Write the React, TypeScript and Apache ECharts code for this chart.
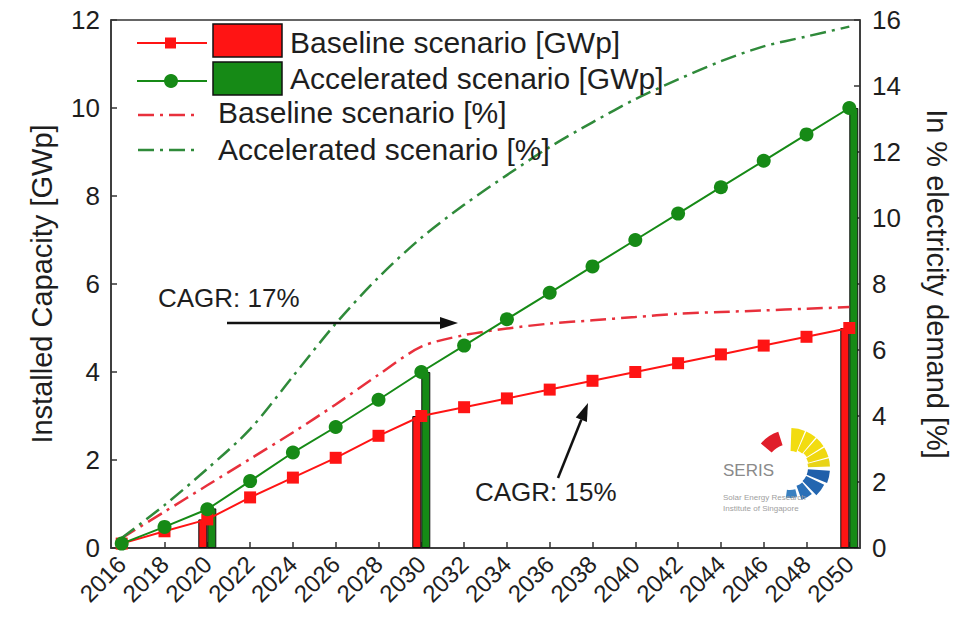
import React, { useEffect, useRef } from "react";
import * as echarts from "echarts";

// ---------- data ----------
const years: string[] = [];
for (let y = 2016; y <= 2050; y++) years.push(String(y));

const markerYears = [2016, 2018, 2020, 2022, 2024, 2026, 2028, 2030, 2032, 2034, 2036, 2038, 2040, 2042, 2044, 2046, 2048, 2050];
const baselineGWp = [0.1, 0.38, 0.65, 1.15, 1.6, 2.05, 2.55, 3.0, 3.2, 3.4, 3.6, 3.8, 4.0, 4.2, 4.4, 4.6, 4.8, 5.0];
const acceleratedGWp = [0.1, 0.48, 0.88, 1.52, 2.17, 2.75, 3.37, 4.0, 4.6, 5.2, 5.8, 6.4, 7.0, 7.6, 8.2, 8.8, 9.4, 10.0];
const baselinePct = [0.3, 1.1, 1.9, 2.7, 3.5, 4.35, 5.25, 6.1, 6.45, 6.65, 6.8, 6.9, 7.0, 7.1, 7.15, 7.2, 7.25, 7.3];
const acceleratedPct = [0.3, 1.3, 2.4, 3.6, 5.2, 6.8, 8.2, 9.4, 10.4, 11.3, 12.15, 12.9, 13.6, 14.2, 14.75, 15.2, 15.5, 15.8];

const barYears = [2020, 2030, 2050];
const baselineBars = [0.65, 3.0, 5.0];
const acceleratedBars = [0.9, 4.0, 10.0];

const leftTicks = { min: 0, max: 12, interval: 2 };
const rightTicks = { min: 0, max: 16, interval: 2 };

const RED = "#ff1414";
const GREEN = "#168a16";
const RED_D = "#e8303c";
const GREEN_D = "#2f8a3a";
const FONT = "Liberation Sans, Arial, Helvetica, sans-serif";
const TXT = "#1e1e1e";

function toFull(ys: number[], vs: number[]) {
  return years.map((y) => {
    const i = ys.indexOf(Number(y));
    return i >= 0 ? vs[i] : null;
  });
}

function arrowHead(tipX: number, tipY: number, fromX: number, fromY: number, len: number, half: number) {
  const dx = tipX - fromX;
  const dy = tipY - fromY;
  const d = Math.sqrt(dx * dx + dy * dy);
  const ux = dx / d;
  const uy = dy / d;
  const bx = tipX - ux * len;
  const by = tipY - uy * len;
  return {
    base: [bx, by],
    pts: [
      [tipX, tipY],
      [bx - uy * half, by + ux * half],
      [bx + uy * half, by - ux * half],
    ],
  };
}

function textEl(x: number, y: number, text: string, size: number, fill = TXT, extra: any = {}) {
  return {
    type: "text",
    x,
    y,
    z: 20,
    style: {
      text,
      fill,
      font: `${extra.weight || "normal"} ${size}px ${FONT}`,
      align: extra.align || "left",
      verticalAlign: "middle",
      textAlign: extra.align || "left",
      textVerticalAlign: "middle",
    },
  };
}

export default function App() {
  const ref = useRef<HTMLDivElement>(null);

  useEffect(() => {
    document.body.style.margin = "0";
    if (!ref.current) return;
    const chart = echarts.init(ref.current, null, { renderer: "svg" });

    const a1 = arrowHead(458, 323, 227, 323, 18, 6);
    const a2 = arrowHead(588, 403, 558, 478, 18, 6);

    // logo sectors (math angles in degrees)
    const cx = 790;
    const cy = 468;
    const deg = Math.PI / 180;
    const sector = (a1d: number, a2d: number, r0: number, r: number, color: string) => ({
      type: "sector",
      z: 5,
      shape: { cx, cy, r0, r, startAngle: -a2d * deg, endAngle: -a1d * deg, clockwise: true },
      style: { fill: color },
    });
    const logo = [
      sector(108, 140, 24, 38, "#e01e2a"),
      sector(68, 88, 17, 40, "#f2dc10"),
      sector(50, 66, 19, 40, "#f2dc10"),
      sector(33, 48, 20, 40, "#f2dc10"),
      sector(16, 31, 19, 40, "#f0d810"),
      sector(2, 14, 18, 40, "#e8d418"),
      sector(-22, -4, 18, 40, "#1f5faa"),
      sector(-46, -26, 18, 38, "#2366b0"),
      sector(-70, -50, 19, 34, "#2a70b8"),
      sector(-98, -76, 22, 30, "#3a80c0"),
      textEl(723, 470, "SERIS", 17, "#8a8a8a"),
      textEl(723, 497, "Solar Energy Research", 8, "#a0a0a0"),
      textEl(723, 508, "Institute of Singapore", 8, "#a0a0a0"),
    ];

    const legend = [
      { type: "line", z: 20, shape: { x1: 137, y1: 43, x2: 207, y2: 43 }, style: { stroke: RED, lineWidth: 2 } },
      { type: "rect", z: 21, shape: { x: 165, y: 37.5, width: 11, height: 11 }, style: { fill: RED } },
      { type: "rect", z: 20, shape: { x: 213, y: 24, width: 69, height: 33 }, style: { fill: RED, stroke: "#111", lineWidth: 1.5 } },
      textEl(290, 42, "Baseline scenario [GWp]", 30),
      { type: "line", z: 20, shape: { x1: 137, y1: 81, x2: 207, y2: 81 }, style: { stroke: GREEN, lineWidth: 2 } },
      { type: "circle", z: 21, shape: { cx: 171, cy: 81, r: 7 }, style: { fill: GREEN } },
      { type: "rect", z: 20, shape: { x: 213, y: 62, width: 69, height: 33 }, style: { fill: GREEN, stroke: "#111", lineWidth: 1.5 } },
      textEl(290, 78, "Accelerated scenario [GWp]", 30),
      { type: "line", z: 20, shape: { x1: 138, y1: 115, x2: 200, y2: 115 }, style: { stroke: RED_D, lineWidth: 2.5, lineDash: [16, 6, 3, 6] } },
      textEl(218, 112, "Baseline scenario [%]", 30),
      { type: "line", z: 20, shape: { x1: 138, y1: 150, x2: 200, y2: 150 }, style: { stroke: GREEN_D, lineWidth: 2.5, lineDash: [16, 6, 3, 6] } },
      textEl(218, 149, "Accelerated scenario [%]", 30),
    ];

    const annotations = [
      textEl(158, 298, "CAGR: 17%", 26),
      { type: "line", z: 20, shape: { x1: 227, y1: 323, x2: a1.base[0], y2: a1.base[1] }, style: { stroke: "#111", lineWidth: 2.5 } },
      { type: "polygon", z: 20, shape: { points: a1.pts }, style: { fill: "#111" } },
      textEl(475, 492, "CAGR: 15%", 26),
      { type: "line", z: 20, shape: { x1: 558, y1: 478, x2: a2.base[0], y2: a2.base[1] }, style: { stroke: "#111", lineWidth: 2.5 } },
      { type: "polygon", z: 20, shape: { points: a2.pts }, style: { fill: "#111" } },
    ];

    const axisCommon = {
      axisLine: { show: true, lineStyle: { color: "#333", width: 1.5 } },
      axisTick: { show: true, inside: true, length: 6, lineStyle: { color: "#333", width: 1.5 } },
      splitLine: { show: false },
    };

    chart.setOption({
      animation: false,
      backgroundColor: "#fff",
      textStyle: { fontFamily: FONT },
      grid: {
        left: 111,
        right: 97,
        top: 20,
        bottom: 72,
        show: true,
        borderColor: "#333",
        borderWidth: 1.5,
        containLabel: false,
      },
      xAxis: {
        type: "category",
        data: years,
        boundaryGap: true,
        ...axisCommon,
        axisTick: {
          show: true,
          inside: true,
          length: 6,
          alignWithLabel: true,
          interval: (i: number) => i % 2 === 0,
          lineStyle: { color: "#333", width: 1.5 },
        },
        axisLabel: {
          interval: (i: number) => i % 2 === 0,
          rotate: 45,
          fontSize: 24,
          color: TXT,
          margin: 12,
          fontFamily: FONT,
        },
      },
      yAxis: [
        {
          type: "value",
          position: "left",
          ...leftTicks,
          ...axisCommon,
          axisLabel: { fontSize: 26, color: TXT, margin: 11, fontFamily: FONT },
          name: "Installed Capacity [GWp]",
          nameLocation: "middle",
          nameRotate: 90,
          nameGap: 55,
          nameTextStyle: { fontSize: 29, color: TXT, fontFamily: FONT },
        },
        {
          type: "value",
          position: "right",
          ...rightTicks,
          ...axisCommon,
          axisLabel: { fontSize: 26, color: TXT, margin: 12, fontFamily: FONT },
          name: "In % electricity demand [%]",
          nameLocation: "middle",
          nameRotate: -90,
          nameGap: 62,
          nameTextStyle: { fontSize: 29, color: TXT, fontFamily: FONT },
        },
      ],
      series: [
        {
          name: "Baseline scenario [GWp] bars",
          type: "bar",
          data: toFull(barYears, baselineBars),
          barWidth: 9,
          barGap: "0%",
          itemStyle: { color: RED, borderColor: "#111", borderWidth: 1 },
          z: 2,
        },
        {
          name: "Accelerated scenario [GWp] bars",
          type: "bar",
          data: toFull(barYears, acceleratedBars),
          barWidth: 9,
          barGap: "0%",
          itemStyle: { color: GREEN, borderColor: "#111", borderWidth: 1 },
          z: 2,
        },
        {
          name: "Baseline scenario [%]",
          type: "line",
          yAxisIndex: 1,
          data: toFull(markerYears, baselinePct),
          connectNulls: true,
          smooth: 0.3,
          symbol: "none",
          lineStyle: { color: RED_D, width: 2.5, type: [16, 6, 3, 6] },
          z: 3,
        },
        {
          name: "Accelerated scenario [%]",
          type: "line",
          yAxisIndex: 1,
          data: toFull(markerYears, acceleratedPct),
          connectNulls: true,
          smooth: 0.3,
          symbol: "none",
          lineStyle: { color: GREEN_D, width: 2.5, type: [16, 6, 3, 6] },
          z: 3,
        },
        {
          name: "Baseline scenario [GWp]",
          type: "line",
          data: toFull(markerYears, baselineGWp),
          connectNulls: true,
          symbol: "rect",
          symbolSize: 12,
          showAllSymbol: true,
          itemStyle: { color: RED },
          lineStyle: { color: RED, width: 2 },
          z: 4,
        },
        {
          name: "Accelerated scenario [GWp]",
          type: "line",
          data: toFull(markerYears, acceleratedGWp),
          connectNulls: true,
          symbol: "circle",
          symbolSize: 14,
          showAllSymbol: true,
          itemStyle: { color: GREEN },
          lineStyle: { color: GREEN, width: 2 },
          z: 4,
        },
      ],
      graphic: [...legend, ...annotations, ...logo],
    });

    return () => chart.dispose();
  }, []);

  return <div ref={ref} style={{ width: 959, height: 620 }} />;
}
